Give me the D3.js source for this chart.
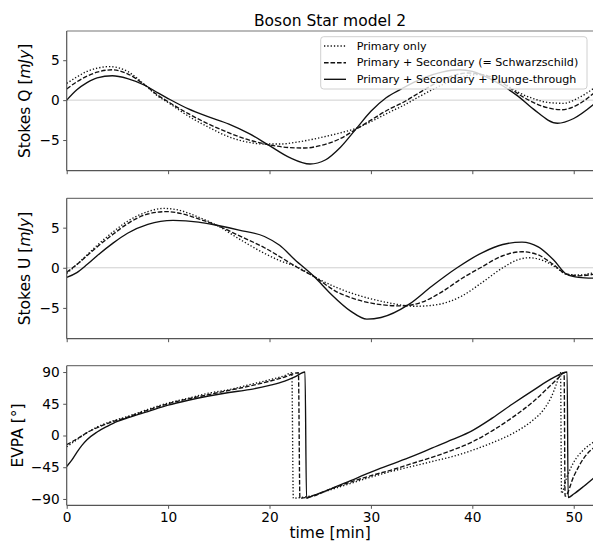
<!DOCTYPE html>
<html><head><meta charset="utf-8">
<script src="https://cdn.jsdelivr.net/npm/d3@7"></script>
<style>
body{margin:0;background:#fff}
svg{display:block}
text{font-family:"DejaVu Sans",sans-serif;fill:#000}
</style>
</head><body>
<svg id="chart" width="593" height="543"></svg>
<script>
// ---------------- data ----------------
const titleText = "Boson Star model 2";
const seriesNames = ["Primary only", "Primary + Secondary (= Schwarzschild)", "Primary + Secondary + Plunge-through"];
const xTicks = [0, 10, 20, 30, 40, 50];
const stokesTicks = [-5, 0, 5];
const evpaTicks = [-90, -45, 0, 45, 90];

// Stokes Q [mJy] : [time (min), value]
const qPrimary = [[0,2.1],[1,2.9],[2,3.6],[3,4.0],[4.2,4.2],[6,3.6],[7.8,1.8],[9,0.5],[10,-0.3],[12,-2.0],[14,-3.4],[16,-4.6],[18,-5.3],[19.5,-5.5],[21,-5.5],[23,-5.2],[25,-4.7],[27,-4.1],[28.6,-3.5],[30,-2.7],[32,-1.4],[33,-0.8],[35,0.6],[37,1.9],[39,2.9],[40.5,3.2],[42,2.9],[43,2.2],[44.5,1.0],[46,0.2],[47.5,-0.3],[49,-0.4],[50.5,0.3],[52,1.5]];
const qSecondary = [[0,1.4],[1,2.3],[2,3.0],[3,3.5],[4.5,3.8],[6,3.3],[7.8,1.8],[9,0.6],[10,-0.2],[12,-1.7],[14,-3.0],[16,-4.1],[18,-5.0],[20,-5.6],[22,-5.95],[23.5,-6.0],[25,-5.7],[27,-4.8],[28.6,-3.6],[30,-2.5],[32,-1.0],[33,-0.4],[35,1.1],[37,2.5],[39.5,3.4],[41,3.2],[43,2.1],[45,0.4],[47,-0.8],[48.8,-1.2],[50.5,-0.5],[52,0.9]];
const qPlunge = [[0,0.0],[1,1.3],[2,2.2],[3,2.8],[4.5,3.05],[6,2.7],[7.8,1.8],[9,0.9],[10,0.2],[12,-1.1],[14,-2.1],[16,-3.0],[18,-4.2],[20,-5.7],[22,-7.2],[24,-8.0],[25.5,-7.5],[27,-5.9],[28.6,-3.5],[30,-1.4],[31.5,0.3],[33,1.4],[35,2.7],[37,3.5],[38.7,3.8],[40,3.6],[42,2.5],[43,1.8],[44.5,0.5],[46,-1.1],[48.4,-2.9],[50,-2.3],[52,-0.5]];

// Stokes U [mJy]
const uPrimary = [[0,-0.7],[1,0.4],[2,1.6],[3,2.8],[4.6,4.5],[6,5.8],[8,7.0],[9.5,7.4],[11,7.2],[13,6.3],[14.8,5.3],[17,3.6],[19.5,1.8],[21,0.9],[22.9,0.0],[24.4,-1.1],[26.5,-2.4],[29.2,-3.6],[31.5,-4.3],[34.4,-4.8],[36.5,-4.6],[39,-3.5],[41,-1.8],[43,0.0],[44.5,1.0],[45.6,1.25],[47,0.9],[48.3,0.0],[49.3,-0.8],[50.5,-0.9],[52,-0.6]];
const uSecondary = [[0,-0.55],[1,0.4],[2,1.5],[3,2.6],[4.6,4.2],[6,5.5],[8,6.7],[9.8,7.0],[11.5,6.7],[13,6.1],[14.8,5.3],[17,4.0],[19.5,2.5],[21,1.4],[22.8,0.0],[24.4,-1.1],[26.5,-2.9],[29,-4.1],[31,-4.6],[32.9,-4.75],[35,-4.3],[37,-3.0],[39,-1.3],[40.8,0.0],[43,1.5],[44.9,2.0],[46.5,1.6],[48,0.4],[49.3,-0.8],[50.5,-1.0],[52,-0.8]];
const uPlunge = [[0,-1.2],[1,-0.6],[2,0.4],[3,1.5],[4.6,3.1],[6,4.3],[8,5.4],[10.5,5.9],[13,5.7],[14.8,5.3],[17,4.7],[19.5,3.9],[21,2.8],[22.5,1.0],[24.4,-1.1],[26,-3.2],[28,-5.4],[29.6,-6.4],[31,-6.2],[33.7,-4.6],[36,-2.3],[38.5,0.0],[41,1.9],[43,2.9],[44.9,3.2],[46.5,2.6],[48,1.0],[49.3,-0.8],[50.5,-1.2],[52,-1.3]];

// EVPA [deg]
const evpaPrimary = [[0,-16],[1,-6],[2,4],[3,12],[4,18],[6,27],[8,37],[10,46],[12,53],[14,60],[16,65],[18,72],[20,79],[21.5,85],[22.2,89],[22.35,-89],[23,-88],[24,-86],[26,-77],[28,-68],[30,-59],[32,-51],[34,-44],[36,-37],[38,-30],[40,-21],[42,-10],[44,3],[46,22],[47,36],[47.8,55],[48.3,73],[48.7,89],[48.8,-82],[49.3,-60],[50,-38],[51,-20],[52,-9]];
const evpaSecondary = [[0,-13],[1,-5],[2,4],[3,11],[4,17],[6,26],[8,36],[10,45],[12,52],[14,58],[16,64],[18,70],[20,77],[21.5,83],[22.85,89],[23,-89],[23.5,-88],[24,-87],[26,-76],[28,-66],[30,-57],[32,-49],[34,-40],[36,-31],[38,-21],[40,-9],[42,7],[44,26],[46,48],[47.5,68],[48.5,82],[49.05,89],[49.15,-86],[50,-58],[51,-32],[52,-17]];
const evpaPlunge = [[0,-44],[0.5,-35],[1,-24],[1.5,-14],[2,-6],[3,5],[4,13],[5,20],[6,25],[8,34],[10,43],[12,50],[14,56],[16,61],[18,65],[20,71],[21.5,77],[22.5,83],[23.5,90],[23.65,-89],[24,-87],[26,-76],[28,-64],[30,-52],[32,-41],[34,-30],[36,-18],[38,-6],[40,7],[42,25],[44,45],[46,64],[48,82],[49.35,90],[49.45,-88],[50,-83],[51,-72],[52,-60]];

// ---------------- layout ----------------
const svg = d3.select("#chart");
const left = 66.7, right = 594;
const x = d3.scaleLinear().domain([0, 52]).range([left, right]);

const panels = [
  {top: 31, bottom: 170.7, domain: [-8.84, 8.66], ticks: stokesTicks, label: "Q", data: [qPrimary, qSecondary, qPlunge], zero: true, labelX: 25},
  {top: 198.3, bottom: 338.7, domain: [-8.84, 8.66], ticks: stokesTicks, label: "U", data: [uPrimary, uSecondary, uPlunge], zero: true, labelX: 25},
  {top: 365.7, bottom: 505.3, domain: [-99, 99], ticks: evpaTicks, label: null, data: [evpaPrimary, evpaSecondary, evpaPlunge], zero: false, labelX: 18}
];
const styles = [
  {dash: "1.3,2.0"},   // primary only : dotted
  {dash: "4.6,1.9"},   // secondary : dashed
  {dash: null}         // plunge : solid
];

panels.forEach((p, i) => {
  const y = d3.scaleLinear().domain(p.domain).range([p.bottom, p.top]);
  const g = svg.append("g");
  const clipId = "clip" + i;
  svg.append("clipPath").attr("id", clipId).append("rect")
    .attr("x", left).attr("y", p.top).attr("width", right - left).attr("height", p.bottom - p.top);

  if (p.zero) {
    g.append("line").attr("x1", left).attr("x2", right).attr("y1", y(0)).attr("y2", y(0))
      .attr("stroke", "#cfcfcf").attr("stroke-width", 1);
  }

  const line = d3.line().x(d => x(d[0])).y(d => y(d[1])).curve(d3.curveMonotoneX);
  p.data.forEach((s, k) => {
    g.append("path").datum(s).attr("d", line)
      .attr("clip-path", `url(#${clipId})`)
      .attr("fill", "none").attr("stroke", "#111").attr("stroke-width", 1.35)
      .attr("stroke-dasharray", styles[k].dash);
  });

  // spines
  g.append("line").attr("x1", left).attr("x2", right).attr("y1", p.top).attr("y2", p.top).attr("stroke", "#777").attr("stroke-width", 1.2);
  g.append("line").attr("x1", left).attr("x2", right).attr("y1", p.bottom).attr("y2", p.bottom).attr("stroke", "#555").attr("stroke-width", 1.2);
  g.append("line").attr("x1", left).attr("x2", left).attr("y1", p.top).attr("y2", p.bottom).attr("stroke", "#555").attr("stroke-width", 1.2);

  // axes
  const xa = d3.axisBottom(x).tickValues(xTicks).tickSize(3.5).tickPadding(3.5).tickFormat(i === 2 ? d3.format("d") : () => "");
  const gx = svg.append("g").attr("transform", `translate(0,${p.bottom})`).call(xa);
  gx.select(".domain").remove();
  gx.selectAll("line").attr("stroke", "#555");
  gx.selectAll("text").attr("font-size", 13.7).attr("font-family", "DejaVu Sans").attr("fill", "#111");

  const ya = d3.axisLeft(y).tickValues(p.ticks).tickSize(3.5).tickPadding(3.5).tickFormat(d3.format("d"));
  const gy = svg.append("g").attr("transform", `translate(${left},0)`).call(ya);
  gy.select(".domain").remove();
  gy.selectAll("line").attr("stroke", "#555");
  gy.selectAll("text").attr("font-size", 13.7).attr("font-family", "DejaVu Sans").attr("fill", "#111");

  // y labels
  const cy = (p.top + p.bottom) / 2;
  const lab = svg.append("text").attr("transform", `translate(${p.labelX},${cy}) rotate(-90)`)
    .attr("text-anchor", "middle").attr("dominant-baseline", "middle").attr("font-size", 15.5).attr("fill", "#111");
  if (p.label) {
    lab.append("tspan").text(`Stokes ${p.label} [`);
    lab.append("tspan").attr("font-style", "italic").text("mJy");
    lab.append("tspan").text("]");
  } else {
    lab.text("EVPA [°]");
  }
});

// title
svg.append("text").attr("x", (left + 593.5) / 2).attr("y", 25.5).attr("text-anchor", "middle")
  .attr("font-size", 15.5).attr("fill", "#111").text(titleText);

// x label
svg.append("text").attr("x", (left + 593.5) / 2).attr("y", 537.5).attr("text-anchor", "middle")
  .attr("font-size", 15.5).attr("fill", "#111").text("time [min]");

// legend
const lg = svg.append("g");
lg.append("rect").attr("x", 320.7).attr("y", 36.7).attr("width", 266.3).attr("height", 52.3)
  .attr("rx", 3).attr("fill", "#fff").attr("fill-opacity", 0.8).attr("stroke", "#d0d0d0").attr("stroke-width", 1);
const rowY = [46, 62.7, 79.3];
seriesNames.forEach((name, k) => {
  lg.append("line").attr("x1", 324).attr("x2", 346).attr("y1", rowY[k]).attr("y2", rowY[k])
    .attr("stroke", "#111").attr("stroke-width", 1.35).attr("stroke-dasharray", styles[k].dash);
  lg.append("text").attr("x", 356.7).attr("y", rowY[k]).attr("dominant-baseline", "central")
    .attr("font-size", 11.1).attr("fill", "#111").text(name);
});
</script>
</body></html>
